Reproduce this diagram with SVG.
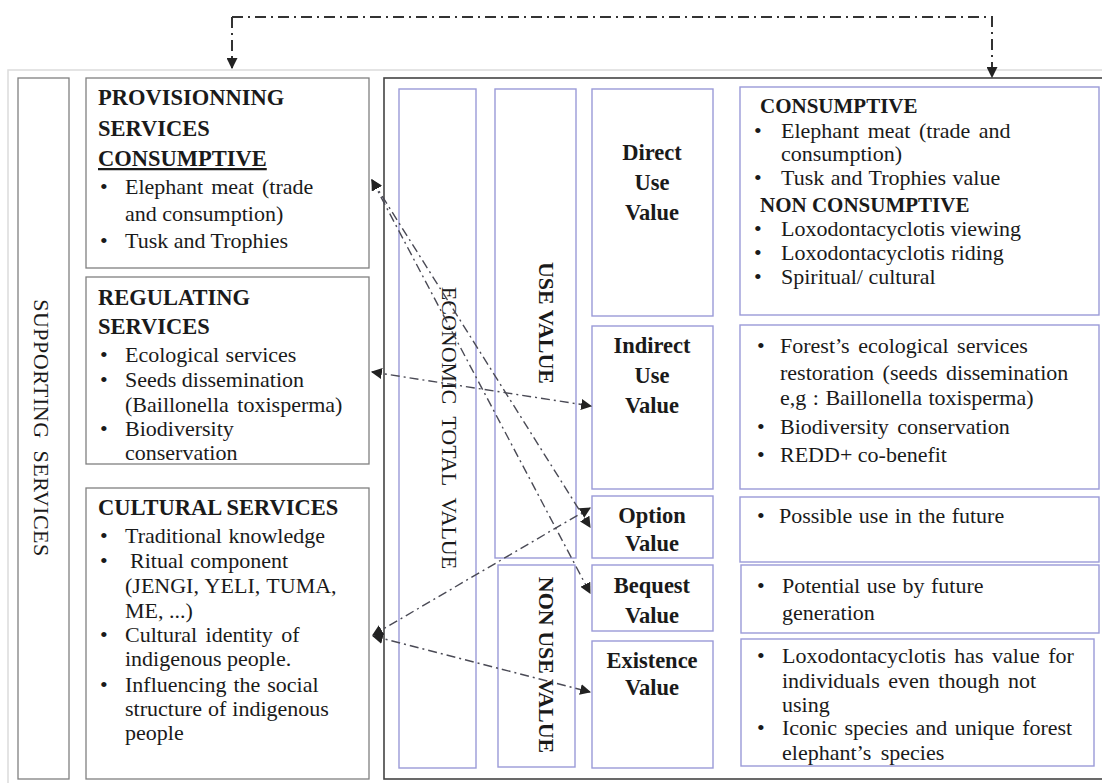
<svg xmlns="http://www.w3.org/2000/svg" width="1102" height="783" viewBox="0 0 1102 783" font-family="'Liberation Serif', 'Times New Roman', serif">
<defs>
<style>
text{font-family:'Liberation Serif','Times New Roman',serif;font-size:22px;fill:#1a1a1a}
.b{font-weight:bold}
.h{font-weight:bold;font-size:22.5px}
.hr{font-weight:bold;font-size:21px}
.v{font-weight:bold;font-size:22.5px;text-anchor:middle}
.c{text-anchor:middle}
.gbox{fill:#fff;stroke:#808080;stroke-width:1.3}
.bbox{fill:#fff;stroke:#9a9ad8;stroke-width:1.4}
.conn{fill:none;stroke:#4a4a55;stroke-width:1.4;stroke-dasharray:9 4 2 4}
.top{fill:none;stroke:#333;stroke-width:2;stroke-dasharray:11 5 2 5}
</style>
<marker id="ah" viewBox="0 0 10 10" refX="9" refY="5" markerWidth="11" markerHeight="11" markerUnits="userSpaceOnUse" orient="auto-start-reverse">
<path d="M0,0 L10,5 L0,10 z" fill="#222"/>
</marker>
</defs>
<rect width="1102" height="783" fill="#fff"/>
<path d="M1102,70 H8 V783" fill="none" stroke="#dcdcdc" stroke-width="1.5"/>

<g id="supporting">
<rect class="gbox" x="18" y="78" width="51" height="701"/>
<text class="c" transform="translate(34,428) rotate(90)" font-size="23.5" letter-spacing="0.5" word-spacing="6">SUPPORTING SERVICES</text>
</g>

<g id="provisioning">
<rect class="gbox" x="86" y="78" width="283" height="190"/>
<text class="h" x="98" y="105">PROVISIONNING</text>
<text class="h" x="98" y="136">SERVICES</text>
<text class="h" x="98" y="166" text-decoration="underline">CONSUMPTIVE</text>
<text x="100" y="194">•</text><text x="125" y="194" word-spacing="2.5">Elephant meat (trade</text>
<text x="125" y="221">and consumption)</text>
<text x="100" y="248">•</text><text x="125" y="248">Tusk and Trophies</text>
</g>

<g id="regulating">
<rect class="gbox" x="86" y="277" width="283" height="187"/>
<text class="h" x="98" y="305">REGULATING</text>
<text class="h" x="98" y="334">SERVICES</text>
<text x="100" y="362">•</text><text x="125" y="362" word-spacing="1">Ecological services</text>
<text x="100" y="387">•</text><text x="125" y="387">Seeds dissemination</text>
<text x="125" y="412" word-spacing="3">(Baillonella toxisperma)</text>
<text x="100" y="436">•</text><text x="125" y="436">Biodiversity</text>
<text x="125" y="460">conservation</text>
</g>

<g id="cultural">
<rect class="gbox" x="86" y="488" width="283" height="291"/>
<text class="h" x="98" y="515" font-size="22">CULTURAL SERVICES</text>
<text x="100" y="543">•</text><text x="125" y="543" word-spacing="1">Traditional knowledge</text>
<text x="100" y="568">•</text><text x="130" y="568" word-spacing="1">Ritual component</text>
<text x="125" y="593" word-spacing="1">(JENGI, YELI, TUMA,</text>
<text x="125" y="618">ME, ...)</text>
<text x="100" y="642">•</text><text x="125" y="642" word-spacing="3">Cultural identity of</text>
<text x="125" y="666">indigenous people.</text>
<text x="100" y="692">•</text><text x="125" y="692" word-spacing="1.5">Influencing the social</text>
<text x="125" y="716" word-spacing="0.5">structure of indigenous</text>
<text x="125" y="740">people</text>
</g>

<g id="value-frame">
<rect x="384" y="78" width="722" height="701" fill="#fff" stroke="#444" stroke-width="1.6"/>
</g>

<g id="economic-total-value">
<rect class="bbox" x="399" y="89" width="77" height="679"/>
<text class="c" transform="translate(442,428) rotate(90)" font-size="23" word-spacing="7">ECONOMIC TOTAL VALUE</text>
</g>

<g id="use-value">
<rect class="bbox" x="495" y="89" width="81" height="469"/>
<text class="b c" transform="translate(539,323) rotate(90)" font-size="21">USE VALUE</text>
</g>

<g id="non-use-value">
<rect class="bbox" x="498" y="565" width="77" height="202"/>
<text class="b c" transform="translate(539,665) rotate(90)" font-size="21.5">NON USE VALUE</text>
</g>

<g id="direct-use-value">
<rect class="bbox" x="592" y="89" width="121" height="227"/>
<text class="v" x="652" y="160">Direct</text>
<text class="v" x="652" y="190">Use</text>
<text class="v" x="652" y="220">Value</text>
</g>

<g id="indirect-use-value">
<rect class="bbox" x="592" y="326" width="121" height="163"/>
<text class="v" x="652" y="353">Indirect</text>
<text class="v" x="652" y="383">Use</text>
<text class="v" x="652" y="413">Value</text>
</g>

<g id="option-value">
<rect class="bbox" x="592" y="496" width="121" height="62"/>
<text class="v" x="652" y="523">Option</text>
<text class="v" x="652" y="551">Value</text>
</g>

<g id="bequest-value">
<rect class="bbox" x="592" y="565" width="121" height="66"/>
<text class="v" x="652" y="593">Bequest</text>
<text class="v" x="652" y="623">Value</text>
</g>

<g id="existence-value">
<rect class="bbox" x="592" y="641" width="121" height="127"/>
<text class="v" x="652" y="668">Existence</text>
<text class="v" x="652" y="695">Value</text>
</g>

<g id="direct-content">
<rect class="bbox" x="740" y="87" width="359" height="228"/>
<text class="hr" x="760" y="113">CONSUMPTIVE</text>
<text x="754" y="138">•</text><text x="781" y="138" word-spacing="3">Elephant meat (trade and</text>
<text x="781" y="161">consumption)</text>
<text x="754" y="185">•</text><text x="781" y="185" word-spacing="1">Tusk and Trophies value</text>
<text class="hr" x="760" y="212">NON CONSUMPTIVE</text>
<text x="754" y="236">•</text><text x="781" y="236">Loxodontacyclotis viewing</text>
<text x="754" y="260">•</text><text x="781" y="260" word-spacing="1">Loxodontacyclotis riding</text>
<text x="754" y="284">•</text><text x="781" y="284">Spiritual/ cultural</text>
</g>

<g id="indirect-content">
<rect class="bbox" x="740" y="325" width="359" height="164"/>
<text x="757" y="353">•</text><text x="780" y="353" word-spacing="3">Forest’s ecological services</text>
<text x="780" y="380" word-spacing="3">restoration (seeds dissemination</text>
<text x="780" y="405" word-spacing="1">e,g : Baillonella toxisperma)</text>
<text x="757" y="434">•</text><text x="780" y="434" word-spacing="3">Biodiversity conservation</text>
<text x="757" y="462">•</text><text x="780" y="462">REDD+ co-benefit</text>
</g>

<g id="option-content">
<rect class="bbox" x="740" y="497" width="359" height="65"/>
<text x="757" y="523">•</text><text x="779" y="523" word-spacing="1">Possible use in the future</text>
</g>

<g id="bequest-content">
<rect class="bbox" x="741" y="565" width="358" height="68"/>
<text x="757" y="593">•</text><text x="782" y="593" word-spacing="1">Potential use by future</text>
<text x="782" y="620">generation</text>
</g>

<g id="existence-content">
<rect class="bbox" x="741" y="639" width="353" height="127"/>
<text x="757" y="663">•</text><text x="782" y="663" word-spacing="3">Loxodontacyclotis has value for</text>
<text x="782" y="688" word-spacing="3">individuals even though not</text>
<text x="782" y="712">using</text>
<text x="757" y="735">•</text><text x="782" y="735" word-spacing="2">Iconic species and unique forest</text>
<text x="782" y="760" word-spacing="4">elephant’s species</text>
</g>

<g id="connectors">
<path class="top" d="M232,17 H992 V77" marker-end="url(#ah)"/>
<path class="top" d="M232,17 V68" marker-end="url(#ah)"/>
<line class="conn" x1="372" y1="180" x2="590" y2="527" marker-start="url(#ah)" marker-end="url(#ah)"/>
<line class="conn" x1="372" y1="180" x2="590" y2="593" marker-start="url(#ah)" marker-end="url(#ah)"/>
<line class="conn" x1="372" y1="372" x2="591" y2="406" marker-start="url(#ah)" marker-end="url(#ah)"/>
<line class="conn" x1="373" y1="635" x2="590" y2="508" marker-start="url(#ah)" marker-end="url(#ah)"/>
<line class="conn" x1="373" y1="636" x2="590" y2="692" marker-start="url(#ah)" marker-end="url(#ah)"/>
</g>
</svg>
